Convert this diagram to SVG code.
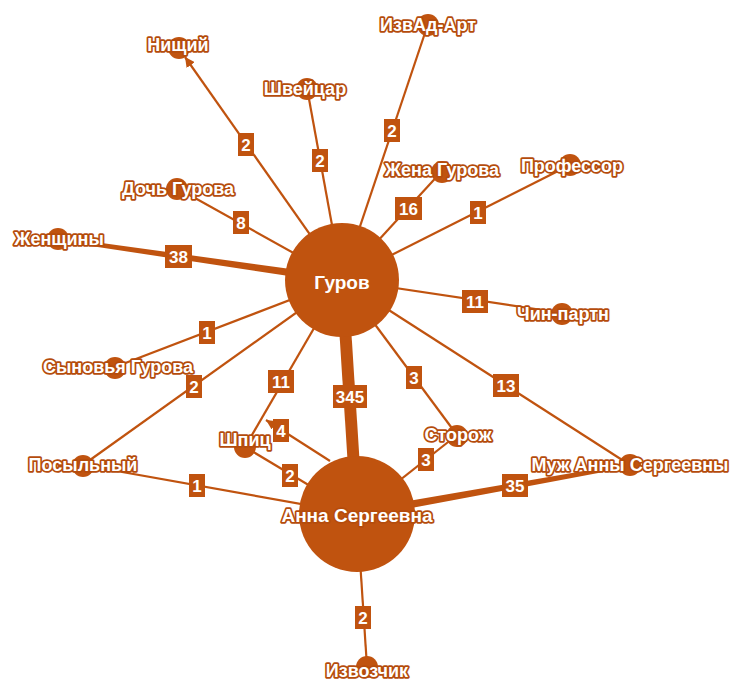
<svg xmlns="http://www.w3.org/2000/svg" width="735" height="682" viewBox="0 0 735 682">
<style>
.e{stroke:#C0530F;stroke-width:2.2;fill:none}
.t{fill:#C0530F}
.n{fill:#C0530F}
.nl{font-family:"Liberation Sans",Arial,sans-serif;font-weight:bold;font-size:18px;fill:#fff;stroke:#B54C0C;stroke-width:3.5;paint-order:stroke;stroke-linejoin:round;text-anchor:middle;dominant-baseline:central}
.big{font-family:"Liberation Sans",Arial,sans-serif;font-weight:bold;font-size:19px;fill:#fff;text-anchor:middle;dominant-baseline:central}
.lb{fill:#C0530F}
.lt{font-family:"Liberation Sans",Arial,sans-serif;font-weight:bold;font-size:17px;fill:#fff;text-anchor:middle;dominant-baseline:central}
</style>
<defs>
<marker id="arr" viewBox="0 0 10 10" refX="10" refY="5" markerWidth="4.5" markerHeight="4.5" orient="auto" markerUnits="strokeWidth">
<path d="M0,0 L10,5 L0,10 z" fill="#C0530F"/>
</marker>
</defs>
<rect width="735" height="682" fill="#fff"/>
<g id="edges">
<line class="e" x1="342" y1="280" x2="185" y2="57" marker-end="url(#arr)"/>
<line class="e" x1="342" y1="280" x2="307" y2="88"/>
<line class="e" x1="342" y1="280" x2="428" y2="24"/>
<line class="e" x1="342" y1="280" x2="442" y2="171"/>
<line class="e" x1="342" y1="280" x2="570" y2="165"/>
<line class="e" x1="342" y1="280" x2="177" y2="188"/>
<polygon class="t" points="58,237 58,241 342,284 342,276"/>
<line class="e" x1="342" y1="280" x2="115" y2="367"/>
<line class="e" x1="342" y1="280" x2="83" y2="465"/>
<line class="e" x1="342" y1="280" x2="245" y2="447"/>
<line class="e" x1="342" y1="280" x2="562" y2="313"/>
<line class="e" x1="342" y1="280" x2="630" y2="465"/>
<line class="e" x1="342" y1="280" x2="457" y2="435"/>
<polygon class="t" points="336,280 348,280 363,514 351,514"/>
<line class="e" x1="457" y1="435" x2="357" y2="514"/>
<polygon class="t" points="356,510 358,518 630,467 630,463"/>
<line class="e" x1="357" y1="514" x2="83" y2="465"/>
<line class="e" x1="357" y1="514" x2="245" y2="447"/>
<line class="e" x1="357" y1="514" x2="367" y2="667"/>
<line class="e" x1="330" y1="461" x2="266" y2="420" marker-end="url(#arr)"/>
</g>
<g id="node-gurov"><circle class="n" cx="342" cy="280" r="57"/><text class="big" x="342" y="282">Гуров</text></g>
<g id="node-anna"><circle class="n" cx="357" cy="514" r="58"/><text class="nl" x="357" y="515" style="font-size:19px">Анна Сергеевна</text></g>
<g id="node-nishchiy"><circle class="n" cx="179" cy="48" r="11"/></g>
<g id="node-shveytsar"><circle class="n" cx="307" cy="89" r="11"/></g>
<g id="node-izvad"><circle class="n" cx="428" cy="25" r="11"/></g>
<g id="node-zhena"><circle class="n" cx="442" cy="172" r="11"/></g>
<g id="node-professor"><circle class="n" cx="570" cy="165" r="11"/></g>
<g id="node-doch"><circle class="n" cx="177" cy="189" r="11"/></g>
<g id="node-zhenshchiny"><circle class="n" cx="58" cy="239" r="11"/></g>
<g id="node-chin"><circle class="n" cx="562" cy="314" r="11"/></g>
<g id="node-synovya"><circle class="n" cx="115" cy="368" r="11"/></g>
<g id="node-posylny"><circle class="n" cx="83" cy="466" r="11"/></g>
<g id="node-shpits"><circle class="n" cx="245" cy="447" r="11"/></g>
<g id="node-storozh"><circle class="n" cx="457" cy="436" r="11"/></g>
<g id="node-muzh"><circle class="n" cx="630" cy="465" r="11"/></g>
<g id="node-izvozchik"><circle class="n" cx="367" cy="667" r="11"/></g>
<g id="edge-labels">
<rect class="lb" x="238" y="133" width="16" height="23"/><text class="lt" x="246" y="145">2</text>
<rect class="lb" x="312" y="149" width="16" height="23"/><text class="lt" x="320" y="161">2</text>
<rect class="lb" x="384" y="119" width="16" height="23"/><text class="lt" x="392" y="131">2</text>
<rect class="lb" x="395" y="197" width="27" height="23"/><text class="lt" x="408.5" y="209">16</text>
<rect class="lb" x="470" y="201" width="16" height="23"/><text class="lt" x="478" y="213">1</text>
<rect class="lb" x="233" y="211" width="16" height="23"/><text class="lt" x="241" y="223">8</text>
<rect class="lb" x="165" y="245" width="27" height="23"/><text class="lt" x="178.5" y="257">38</text>
<rect class="lb" x="199" y="321" width="16" height="23"/><text class="lt" x="207" y="333">1</text>
<rect class="lb" x="186" y="375" width="16" height="23"/><text class="lt" x="194" y="387">2</text>
<rect class="lb" x="268" y="370" width="26" height="23"/><text class="lt" x="281" y="382">11</text>
<rect class="lb" x="333" y="385" width="34" height="23"/><text class="lt" x="350" y="397">345</text>
<rect class="lb" x="462" y="290" width="26" height="23"/><text class="lt" x="475" y="302">11</text>
<rect class="lb" x="493" y="374" width="26" height="23"/><text class="lt" x="506" y="386">13</text>
<rect class="lb" x="406" y="366" width="16" height="23"/><text class="lt" x="414" y="378">3</text>
<rect class="lb" x="418" y="448" width="16" height="23"/><text class="lt" x="426" y="460">3</text>
<rect class="lb" x="502" y="474" width="26" height="23"/><text class="lt" x="515" y="486">35</text>
<rect class="lb" x="189" y="474" width="16" height="23"/><text class="lt" x="197" y="486">1</text>
<rect class="lb" x="282" y="464" width="16" height="23"/><text class="lt" x="290" y="476">2</text>
<rect class="lb" x="273" y="419" width="16" height="23"/><text class="lt" x="281" y="431">4</text>
<rect class="lb" x="355" y="606" width="16" height="23"/><text class="lt" x="363" y="618">2</text>
</g>
<g id="node-labels">
<text class="nl" x="178" y="45">Нищий</text>
<text class="nl" x="305" y="89">Швейцар</text>
<text class="nl" x="428" y="25">ИзвАд-Арт</text>
<text class="nl" x="442" y="170">Жена Гурова</text>
<text class="nl" x="572" y="166">Профессор</text>
<text class="nl" x="178" y="189">Дочь Гурова</text>
<text class="nl" x="59" y="239">Женщины</text>
<text class="nl" x="563" y="314">Чин-партн</text>
<text class="nl" x="118" y="367">Сыновья Гурова</text>
<text class="nl" x="83" y="465">Посыльный</text>
<text class="nl" x="245" y="440">Шпиц</text>
<text class="nl" x="458" y="435">Сторож</text>
<text class="nl" x="630" y="465">Муж Анны Сергеевны</text>
<text class="nl" x="367" y="671">Извозчик</text>
</g>
</svg>
